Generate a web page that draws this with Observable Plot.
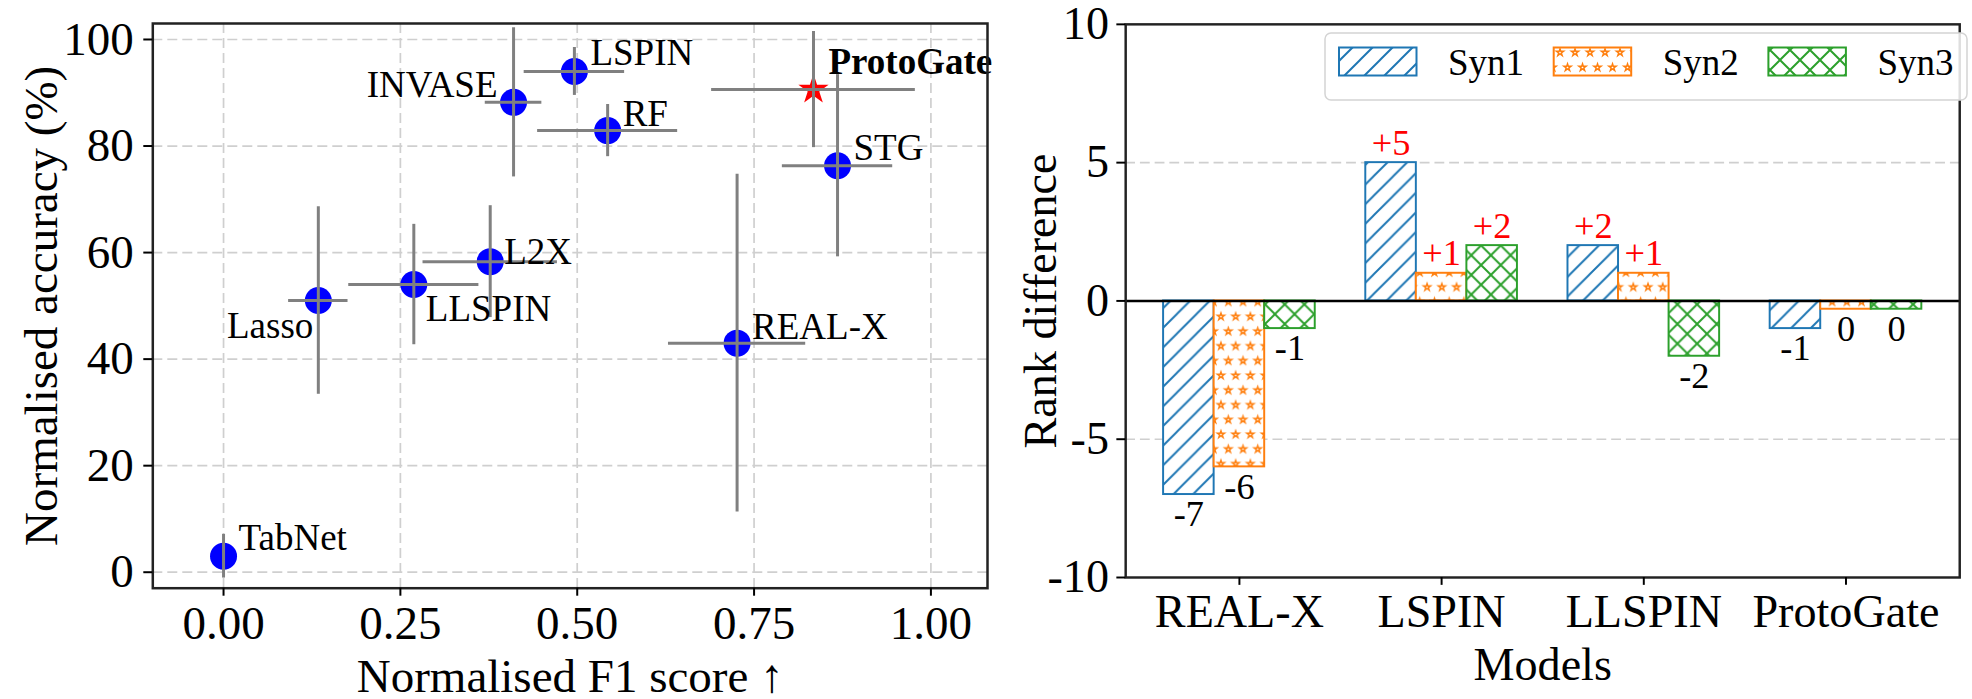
<!DOCTYPE html>
<html>
<head>
<meta charset="utf-8">
<script src="https://cdn.jsdelivr.net/npm/d3@7"></script>
<script src="https://cdn.jsdelivr.net/npm/@observablehq/plot@0.6"></script>
<style>
  html, body { margin: 0; padding: 0; background: #fff; }
  body { width: 1972px; height: 699px; overflow: hidden; position: relative; font-family: "Liberation Serif", serif; }
  #left { position: absolute; left: 0; top: 0; }
  #right { position: absolute; left: 1000px; top: 0; }
  #defs { position: absolute; left: 0; top: 0; }
  #legend { position: absolute; left: 0; top: 0; pointer-events: none; }
</style>
</head>
<body>
<svg id="defs" width="0" height="0"></svg>
<div id="left"></div>
<div id="right"></div>
<svg id="legend" width="1972" height="699"></svg>
<script>
// ---------- Left panel data (scatter with error bars) ----------
const models   = ["TabNet", "Lasso", "LLSPIN", "L2X", "INVASE", "LSPIN", "RF", "REAL-X", "STG", "ProtoGate"];
const f1       = [0.000, 0.134, 0.269, 0.377, 0.410, 0.496, 0.543, 0.726, 0.868, 0.834];
const f1Err    = [0.000, 0.042, 0.092, 0.095, 0.040, 0.071, 0.099, 0.097, 0.078, 0.144];
const accuracy = [3.0, 51.0, 54.0, 58.3, 88.2, 94.0, 82.9, 43.0, 76.3, 90.6];
const accErr   = [4.1, 17.6, 11.3, 10.5, 14.0, 4.5, 4.9, 31.7, 17.1, 10.9];
const highlight = "ProtoGate";
const f1Ticks  = [0, 0.25, 0.5, 0.75, 1.0];
const accTicks = [0, 20, 40, 60, 80, 100];

// ---------- Right panel data (grouped bars) ----------
const rankModels  = ["REAL-X", "LSPIN", "LLSPIN", "ProtoGate"];
const seriesNames = ["Syn1", "Syn2", "Syn3"];
const syn1 = [-7, 5, 2, -1];
const syn2 = [-6, 1, 1, -0.3];
const syn3 = [-1, 2, -2, -0.3];
const syn1Labels = ["-7", "+5", "+2", "-1"];
const syn2Labels = ["-6", "+1", "+1", "0"];
const syn3Labels = ["-1", "+2", "-2", "0"];
const rankTicks = [-10, -5, 0, 5, 10];

// ---------- styling / layout (not data) ----------
const seriesColors = ["#1f77b4", "#ff7f0e", "#2ca02c"];
const labelLayout = {
  "TabNet":    {dx: 15,  dy: -6,  anchor: "start"},
  "Lasso":     {dx: -5,  dy: 37,  anchor: "end"},
  "LLSPIN":    {dx: 12,  dy: 36,  anchor: "start"},
  "L2X":       {dx: 14,  dy: 2,   anchor: "start"},
  "INVASE":    {dx: -16, dy: -5,  anchor: "end"},
  "LSPIN":     {dx: 16,  dy: -6,  anchor: "start"},
  "RF":        {dx: 15,  dy: -5,  anchor: "start"},
  "REAL-X":    {dx: 15,  dy: -4,  anchor: "start"},
  "STG":       {dx: 16,  dy: -6,  anchor: "start"},
  "ProtoGate": {dx: 15,  dy: -16, anchor: "start"}
};
const FONT = "'Liberation Serif', 'Times New Roman', serif";
const gridStyle = {stroke: "#cfcfcf", strokeOpacity: 1, strokeWidth: 1.7, strokeDasharray: "10,5"};

// ---------- hatch patterns ----------
const defs = d3.select("#defs").append("defs");
{
  const p = defs.append("pattern").attr("id", "hatch-0").attr("patternUnits", "userSpaceOnUse").attr("width", 20).attr("height", 20);
  p.append("rect").attr("width", 20).attr("height", 20).attr("fill", "white");
  p.append("path").attr("d", "M-5,5L5,-5M0,20L20,0M15,25L25,15").attr("stroke", seriesColors[0]).attr("stroke-width", 2).attr("fill", "none");
}
{
  const p = defs.append("pattern").attr("id", "hatch-1").attr("patternUnits", "userSpaceOnUse").attr("width", 15).attr("height", 30);
  p.append("rect").attr("width", 15).attr("height", 30).attr("fill", "white");
  const star = d3.symbol(d3.symbolStar).size(15)();
  [[7.5, 7.5], [0, 22.5], [15, 22.5], [0, -7.5], [15, -7.5], [7.5, 37.5]].forEach(([x, y]) => {
    p.append("path").attr("d", star).attr("transform", `translate(${x},${y})`)
      .attr("fill", "white").attr("stroke", seriesColors[1]).attr("stroke-width", 1.5);
  });
}
{
  const p = defs.append("pattern").attr("id", "hatch-2").attr("patternUnits", "userSpaceOnUse").attr("width", 20).attr("height", 20);
  p.append("rect").attr("width", 20).attr("height", 20).attr("fill", "white");
  p.append("path").attr("d", "M-5,5L5,-5M0,20L20,0M15,25L25,15M-5,15L5,25M0,0L20,20M15,-5L25,5").attr("stroke", seriesColors[2]).attr("stroke-width", 2).attr("fill", "none");
}

// ---------- left chart ----------
const points = models.map((m, i) => ({model: m, f1: f1[i], f1Err: f1Err[i], acc: accuracy[i], accErr: accErr[i]}));

const leftPlot = Plot.plot({
  width: 1000, height: 699,
  marginLeft: 152.3, marginRight: 13, marginTop: 23, marginBottom: 111.3,
  style: {fontFamily: FONT, fontSize: "47px", background: "transparent", overflow: "visible", color: "black"},
  x: {domain: [-0.1, 1.08]},
  y: {domain: [-3, 103]},
  marks: [
    Plot.gridX(f1Ticks, gridStyle),
    Plot.gridY(accTicks, gridStyle),
    Plot.dot(points.filter(d => d.model !== highlight), {x: "f1", y: "acc", r: 13.5, fill: "#0000ff"}),
    Plot.dot(points.filter(d => d.model === highlight), {x: "f1", y: "acc", r: 9.5, symbol: "star", fill: "#ff0000"}),
    Plot.ruleX(points, {x: "f1", y1: d => d.acc - d.accErr, y2: d => d.acc + d.accErr, stroke: "#808080", strokeWidth: 3}),
    Plot.ruleY(points.filter(d => d.f1Err > 0), {y: "acc", x1: d => d.f1 - d.f1Err, x2: d => d.f1 + d.f1Err, stroke: "#808080", strokeWidth: 3}),
    ...points.map(d => {
      const L = labelLayout[d.model];
      return Plot.text([d], {x: "f1", y: "acc", text: "model", dx: L.dx, dy: L.dy, textAnchor: L.anchor,
        lineAnchor: "bottom", fontSize: 37, fontWeight: d.model === highlight ? "bold" : "normal", fill: "black"});
    }),
    Plot.frame({stroke: "#222", strokeWidth: 2.5}),
    Plot.axisX(f1Ticks, {tickSize: 8, tickPadding: 9, tickFormat: d3.format(".2f"), fontSize: 47, label: null, strokeWidth: 2}),
    Plot.axisY(accTicks, {tickSize: 9, tickPadding: 10, tickFormat: d => String(d), fontSize: 47, label: null, strokeWidth: 2}),
    Plot.text(["Normalised accuracy (%)"], {text: d => d, frameAnchor: "left", dx: -111, rotate: -90, fontSize: 47, textAnchor: "middle", lineAnchor: "middle", fill: "black"}),
    Plot.text(["Normalised F1 score ↑"], {text: d => d, frameAnchor: "bottom", dy: 104, fontSize: 47, textAnchor: "middle", lineAnchor: "bottom", fill: "black"})
  ]
});
document.getElementById("left").appendChild(leftPlot);

// ---------- right chart ----------
const seriesValues = [syn1, syn2, syn3];
const seriesLabels = [syn1Labels, syn2Labels, syn3Labels];
const barWidth = 0.25;
const bars = seriesNames.flatMap((s, j) => rankModels.map((m, i) => ({
  series: s, j, i, pos: i + (j - 1) * barWidth, value: seriesValues[j][i], label: seriesLabels[j][i]
})));

const rightPlot = Plot.plot({
  width: 990, height: 699,
  marginLeft: 127.5, marginRight: 13, marginTop: 24.3, marginBottom: 111.3,
  style: {fontFamily: FONT, fontSize: "47px", background: "transparent", overflow: "visible", color: "black"},
  x: {domain: [-0.5625, 3.5625]},
  y: {domain: [-10, 10]},
  marks: [
    Plot.gridY([-5, 5], gridStyle),
    ...seriesNames.map((s, j) => Plot.rect(bars.filter(d => d.j === j), {
      x1: d => d.pos - barWidth / 2, x2: d => d.pos + barWidth / 2, y1: 0, y2: "value",
      fill: `url(#hatch-${j})`, stroke: seriesColors[j], strokeWidth: 2
    })),
    Plot.ruleY([0], {stroke: "black", strokeWidth: 2.5}),
    Plot.text(bars.filter(d => d.label.startsWith("+")), {x: "pos", y: "value", text: "label", fill: "#ff0000", lineAnchor: "bottom", dy: -8, fontSize: 37}),
    Plot.text(bars.filter(d => !d.label.startsWith("+")), {x: "pos", y: "value", text: "label", fill: "black", lineAnchor: "top", dy: 6, fontSize: 37}),
    Plot.frame({stroke: "#222", strokeWidth: 2.5}),
    Plot.axisX([0, 1, 2, 3], {tickSize: 8, tickPadding: 9, tickFormat: i => rankModels[i], fontSize: 47, label: null, strokeWidth: 2}),
    Plot.axisY(rankTicks, {tickSize: 9, tickPadding: 8, tickFormat: d => String(d), fontSize: 47, label: null, strokeWidth: 2}),
    Plot.text(["Rank difference"], {text: d => d, frameAnchor: "left", dx: -86, rotate: -90, fontSize: 47, textAnchor: "middle", lineAnchor: "middle", fill: "black"}),
    Plot.text(["Models"], {text: d => d, frameAnchor: "bottom", dy: 104, fontSize: 47, textAnchor: "middle", lineAnchor: "bottom", fill: "black"})
  ]
});
document.getElementById("right").appendChild(rightPlot);

// ---------- legend ----------
const lg = d3.select("#legend");
lg.append("rect").attr("x", 1325).attr("y", 33).attr("width", 642).attr("height", 67).attr("rx", 6)
  .attr("fill", "white").attr("fill-opacity", 0.85).attr("stroke", "#d4d4d4").attr("stroke-width", 1.5);
seriesNames.forEach((s, j) => {
  const x0 = 1339 + j * 214.7;
  lg.append("rect").attr("x", x0).attr("y", 47.5).attr("width", 77.5).attr("height", 28)
    .attr("fill", `url(#hatch-${j})`).attr("stroke", seriesColors[j]).attr("stroke-width", 2);
  lg.append("text").attr("x", x0 + 109).attr("y", 75).attr("font-family", FONT).attr("font-size", 37)
    .attr("fill", "black").text(s);
});
</script>
</body>
</html>
